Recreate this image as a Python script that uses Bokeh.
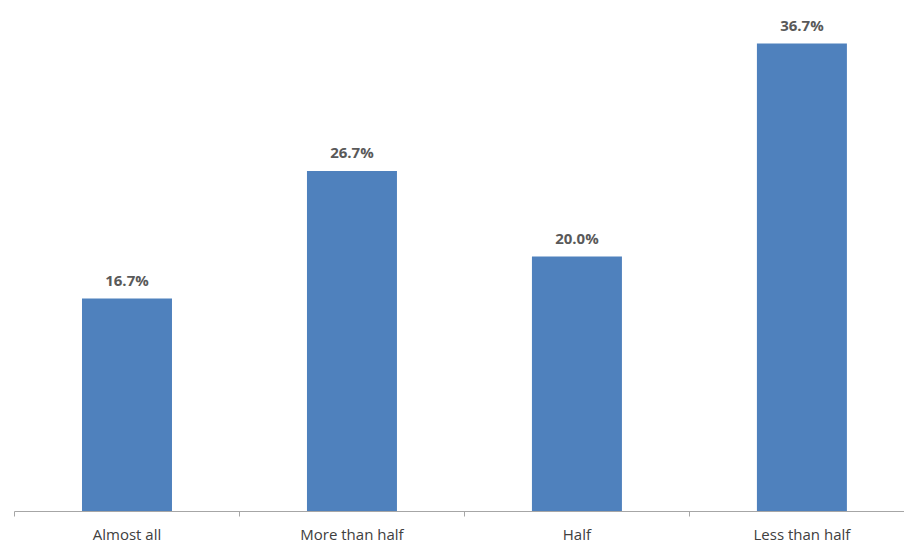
from bokeh.plotting import figure
from bokeh.models import Range1d, FixedTicker, ColumnDataSource, LabelSet
from bokeh.core.properties import value
from bokeh.embed import file_html
from bokeh.resources import INLINE

categories = ["Almost all", "More than half", "Half", "Less than half"]
values = [16.7, 26.7, 20.0, 36.7]
labels = ["16.7%", "26.7%", "20.0%", "36.7%"]

xs = list(range(len(categories)))
src = ColumnDataSource(dict(x=xs, top=values, lab=labels))

p = figure(width=904, height=546, output_backend="svg", toolbar_location=None,
           x_range=Range1d(-0.5, 3.456), y_range=Range1d(0, 40),
           min_border_left=14, min_border_right=0, min_border_top=1, min_border_bottom=35)
p.outline_line_color = None
p.background_fill_color = "white"
p.border_fill_color = "white"
p.xgrid.visible = False
p.ygrid.visible = False
p.yaxis.visible = False

p.vbar(x="x", top="top", width=0.4, bottom=0, source=src,
       fill_color="#4F81BD", line_color=None)

p.add_layout(LabelSet(x="x", y="top", text="lab", source=src,
                      text_align="center", text_baseline="bottom",
                      y_offset=9, text_font=value("Open Sans"), text_font_size="15px",
                      text_font_style="bold", text_color="#595959"))

ax = p.xaxis[0]
ax.ticker = FixedTicker(ticks=xs, minor_ticks=[-0.5, 0.5, 1.5, 2.5])
ax.major_label_overrides = {i: c for i, c in enumerate(categories)}
ax.major_tick_line_color = None
ax.major_tick_in = 0
ax.major_tick_out = 0
ax.minor_tick_in = 0
ax.minor_tick_out = 5
ax.minor_tick_line_color = "#A6A6A6"
ax.axis_line_color = "#A6A6A6"
ax.axis_line_width = 1
ax.major_label_text_font = "Open Sans"
ax.major_label_text_font_size = "15px"
ax.major_label_text_color = "#404040"
ax.major_label_standoff = 7

open("out.html", "w").write(file_html(p, INLINE))
